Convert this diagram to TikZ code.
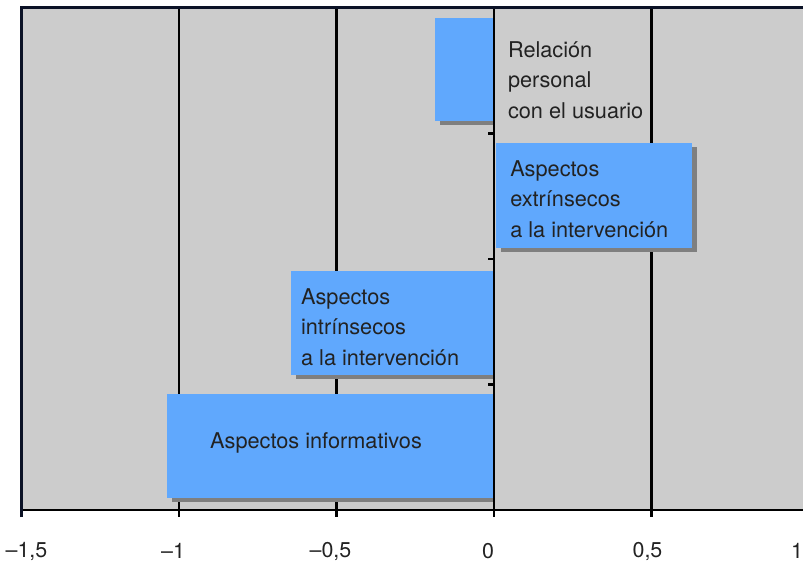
\documentclass[tikz,border=0pt]{standalone}
\usepackage{fontspec}
\setmainfont{TeX Gyre Heros}
\usetikzlibrary{positioning}
\definecolor{plotgray}{HTML}{CCCCCC}
\definecolor{barblue}{HTML}{60A8FD}
\definecolor{shadowgray}{HTML}{7F7F7F}
\definecolor{framenavy}{HTML}{0B1226}
\definecolor{textdark}{HTML}{222222}

\begin{document}
\begin{tikzpicture}[
    x=315bp, y=-125.5bp,
    bar/.style={fill=barblue},
    barshadow/.style={fill=shadowgray},
    gridline/.style={line width=2.6bp, black},
    frameline/.style={line width=3bp, framenavy},
    barlabel/.style={anchor=west, inner sep=0pt, align=left, text=textdark,
        font=\fontsize{21.8}{30.5}\selectfont},
    ticklabel/.style={inner sep=0pt, text=textdark, xshift=-6bp,
        font=\fontsize{21.5}{25}\selectfont}
]
    \useasboundingbox (-1.5683,-0.0637) rectangle (0.9810,4.4143);

    % plot area
    \fill [plotgray] (-1.5,0) rectangle (0.9810,4);
    \draw [gridline] (-1,0) -- (-1,4.056);
    \draw [gridline] (-0.5,0) -- (-0.5,4.056);
    \draw [gridline] (0.5,0) -- (0.5,4.056);
    \draw [gridline] (-1.5,4) -- (0.9810,4);

    % bars with shadows
    \fill [barshadow] ([shift={(5bp,-4bp)}]-0.187,0.08) rectangle ([yshift=-4bp]0,0.90);
    \fill [bar] (-0.187,0.08) rectangle (0,0.90);

    \fill [barshadow] ([shift={(5bp,-4bp)}]0.006,1.076) rectangle ([shift={(5bp,-4bp)}]0.629,1.912);
    \fill [bar] (0.006,1.076) rectangle (0.629,1.912);

    \fill [barshadow] ([shift={(5bp,-4bp)}]-0.644,2.096) rectangle ([yshift=-4bp]0,2.924);
    \fill [bar] (-0.644,2.096) rectangle (0,2.924);

    \fill [barshadow] ([shift={(5bp,-4bp)}]-1.038,3.076) rectangle ([yshift=-4bp]0,3.904);
    \fill [bar] (-1.038,3.076) rectangle (0,3.904);

    % zero axis and frame
    \draw [gridline] (0,0) -- (0,4.056);
    \draw [gridline] (-0.019,1) -- (0,1);
    \draw [gridline] (-0.019,2) -- (0,2);
    \draw [gridline] (-0.019,3) -- (0,3);
    \draw [frameline] (-1.5,4.056) -- (-1.5,0) -- (0.9810,0);

    % bar labels
    \node [barlabel] (relacion) at (0.044,0.574) {Relación\\personal\\con el usuario};
    \node [barlabel] (extrinsecos) at (0.051,1.522) {Aspectos\\extrínsecos\\a la intervención};
    \node [barlabel] (intrinsecos) at (-0.613,2.542) {Aspectos\\intrínsecos\\a la intervención};
    \node [barlabel, anchor=center] (informativos) at (-0.565,3.466) {Aspectos informativos};

    % tick labels
    \node [ticklabel, xshift=11bp] (t1) at (-1.5,4.327) {\textendash1,5};
    \node [ticklabel] (t2) at (-1,4.327) {\textendash1};
    \node [ticklabel] (t3) at (-0.5,4.327) {\textendash0,5};
    \node [ticklabel] (t4) at (0,4.327) {0};
    \node [ticklabel, xshift=2bp] (t5) at (0.5,4.327) {0,5};
    \node [ticklabel, xshift=-6bp] (t6) at (1,4.327) {1};
\end{tikzpicture}
\end{document}
